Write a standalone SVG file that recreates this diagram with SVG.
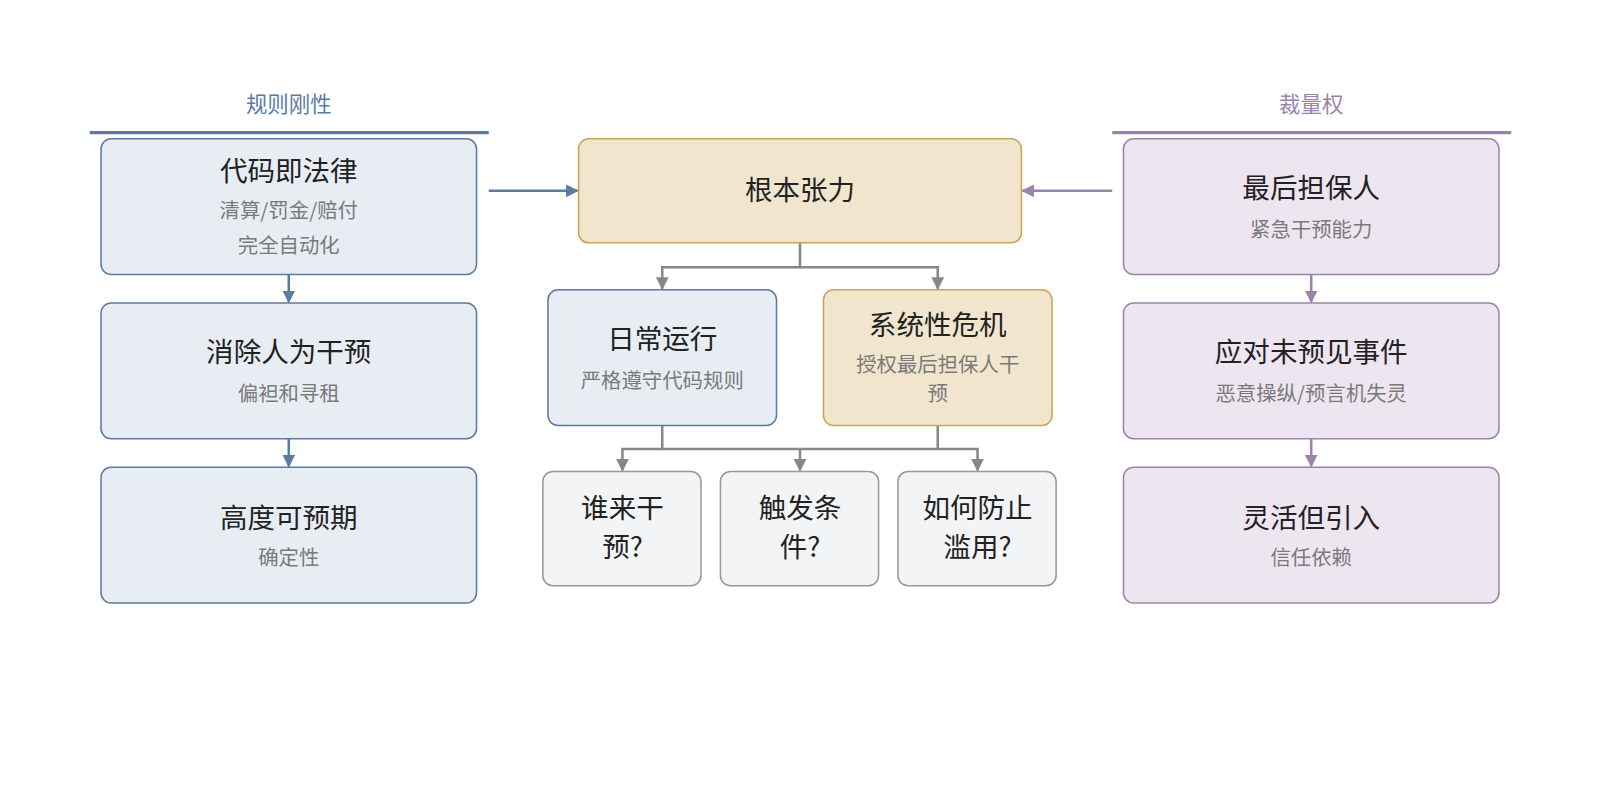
<svg xmlns="http://www.w3.org/2000/svg" width="1600" height="800" viewBox="0 0 1600 800">
<defs>
<style>
text{font-family:"Noto Sans CJK SC","Liberation Sans",sans-serif;text-anchor:middle}
.t{font-size:27px;fill:#222}
.s{font-size:20px;fill:#7a7a7a}
.blue{fill:#e8edf4;stroke:#5b7ba3;stroke-width:1.5}
.gold{fill:#f1e6cd;stroke:#c9a55a;stroke-width:1.5}
.purp{fill:#ede6f1;stroke:#9a84ad;stroke-width:1.5}
.gray{fill:#f3f4f6;stroke:#999;stroke-width:1.5}
.cb{stroke:#5b7ba3;stroke-width:2.5;fill:none}
.cp{stroke:#9a84ad;stroke-width:2.5;fill:none}
.cg{stroke:#888;stroke-width:2.5;fill:none}
</style>
<marker id="ab" viewBox="0 0 10 10" refX="9" refY="5" markerWidth="5" markerHeight="5" orient="auto"><path d="M0,0L10,5L0,10z" fill="#5b7ba3"/></marker>
<marker id="ap" viewBox="0 0 10 10" refX="9" refY="5" markerWidth="5" markerHeight="5" orient="auto"><path d="M0,0L10,5L0,10z" fill="#9a84ad"/></marker>
<marker id="ag" viewBox="0 0 10 10" refX="9" refY="5" markerWidth="5" markerHeight="5" orient="auto"><path d="M0,0L10,5L0,10z" fill="#888"/></marker>
</defs>
<rect width="1600" height="800" fill="#fff"/>
<g transform="scale(1.0204)">
<g id="headers">
<text x="283" y="110" font-size="21" fill="#5b7ba3">规则刚性</text>
<line x1="88" y1="130" x2="479" y2="130" stroke="#5b7ba3" stroke-width="3"/>
<text x="1285" y="110" font-size="21" fill="#9a84ad">裁量权</text>
<line x1="1090" y1="130" x2="1481" y2="130" stroke="#9a84ad" stroke-width="3"/>
</g>
<g id="connectors">
<path class="cb" d="M283,269V296" marker-end="url(#ab)"/>
<path class="cb" d="M283,430V457" marker-end="url(#ab)"/>
<path class="cp" d="M1285,269V296" marker-end="url(#ap)"/>
<path class="cp" d="M1285,430V457" marker-end="url(#ap)"/>
<path class="cb" d="M479,187H566" marker-end="url(#ab)"/>
<path class="cp" d="M1090,187H1002" marker-end="url(#ap)"/>
<path class="cg" d="M784,238V262H649V283" marker-end="url(#ag)"/>
<path class="cg" d="M784,262H919V283" marker-end="url(#ag)"/>
<path class="cg" d="M649,417V440H610V461" marker-end="url(#ag)"/>
<path class="cg" d="M649,440H958V461" marker-end="url(#ag)"/>
<path class="cg" d="M919,417V440M784,440V461" marker-end="url(#ag)"/>
</g>
<g id="n1"><rect class="blue" x="99" y="136" width="368" height="133" rx="10"/><text class="t" x="283" y="177">代码即法律</text><text class="s" x="283" y="214">清算/罚金/赔付</text><text class="s" x="283" y="248">完全自动化</text></g>
<g id="n2"><rect class="blue" x="99" y="297" width="368" height="133" rx="10"/><text class="t" x="283" y="355">消除人为干预</text><text class="s" x="283" y="393">偏袒和寻租</text></g>
<g id="n3"><rect class="blue" x="99" y="458" width="368" height="133" rx="10"/><text class="t" x="283" y="517">高度可预期</text><text class="s" x="283" y="554">确定性</text></g>
<g id="n4"><rect class="gold" x="567" y="136" width="434" height="102" rx="10"/><text class="t" x="784" y="196">根本张力</text></g>
<g id="n5"><rect class="blue" x="537" y="284" width="224" height="133" rx="10"/><text class="t" x="649" y="342">日常运行</text><text class="s" x="649" y="380">严格遵守代码规则</text></g>
<g id="n6"><rect class="gold" x="807" y="284" width="224" height="133" rx="10"/><text class="t" x="919" y="328">系统性危机</text><text class="s" x="919" y="365">授权最后担保人干</text><text class="s" x="919" y="393">预</text></g>
<g id="n7"><rect class="gray" x="532" y="462" width="155" height="112" rx="10"/><text class="t" x="610" y="508">谁来干</text><text class="t" x="610" y="546">预?</text></g>
<g id="n8"><rect class="gray" x="706" y="462" width="155" height="112" rx="10"/><text class="t" x="784" y="508">触发条</text><text class="t" x="784" y="546">件?</text></g>
<g id="n9"><rect class="gray" x="880" y="462" width="155" height="112" rx="10"/><text class="t" x="958" y="508">如何防止</text><text class="t" x="958" y="546">滥用?</text></g>
<g id="n10"><rect class="purp" x="1101" y="136" width="368" height="133" rx="10"/><text class="t" x="1285" y="194">最后担保人</text><text class="s" x="1285" y="232">紧急干预能力</text></g>
<g id="n11"><rect class="purp" x="1101" y="297" width="368" height="133" rx="10"/><text class="t" x="1285" y="355">应对未预见事件</text><text class="s" x="1285" y="393">恶意操纵/预言机失灵</text></g>
<g id="n12"><rect class="purp" x="1101" y="458" width="368" height="133" rx="10"/><text class="t" x="1285" y="517">灵活但引入</text><text class="s" x="1285" y="554">信任依赖</text></g>
</g>
</svg>
